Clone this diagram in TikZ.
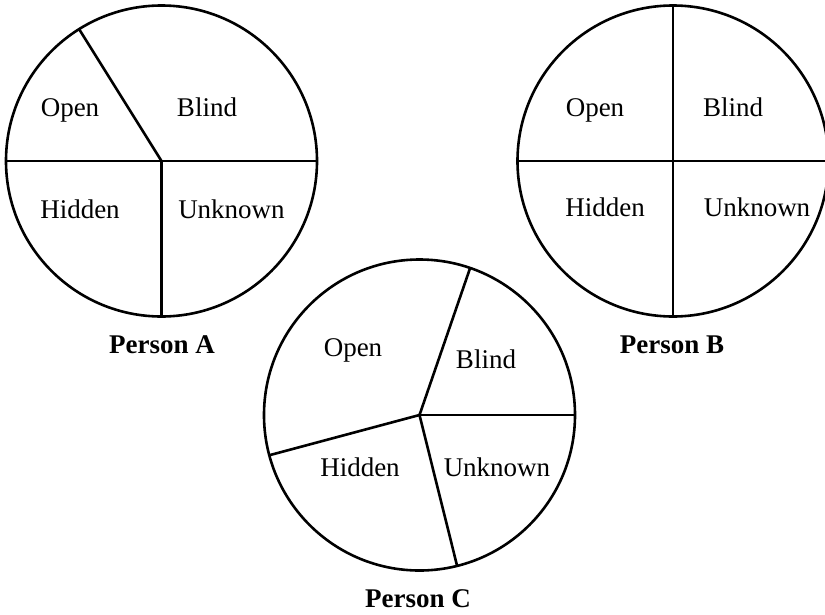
\documentclass[tikz,border=0pt]{standalone}
\usepackage{fontspec}
\setmainfont{Liberation Serif}
\begin{document}
\begin{tikzpicture}[x=1pt,y=-1pt]
\useasboundingbox (0,0) rectangle (825,614);
\clip (0,0) rectangle (825,614);

\begin{scope}[every node/.style={circle,draw,line width=2.6pt,minimum size=311pt,inner sep=0pt,outer sep=0pt}]
    \node (A) at (161.5,161) {};
    \node (B) at (673,161) {};
    \node (C) at (419.5,415) {};
\end{scope}

\begin{scope}[line width=2.6pt]
    \draw (A.west) -- (A.east);
    \draw (A.center) -- (A.south);
    \draw (A.center) -- (A.122.4);
    \draw (B.west) -- (B.east);
    \draw (B.north) -- (B.south);
    \draw (C.center) -- (C.71.4);
    \draw (C.center) -- (C.east);
    \draw (C.center) -- (C.284);
    \draw (C.center) -- (C.195.8);
\end{scope}

\begin{scope}[every node/.style={anchor=base,inner sep=0pt,font=\fontsize{27}{30}\selectfont}]
    \node (A-open) at (70,116) {Open};
    \node (A-blind) at (207,116) {Blind};
    \node (A-hidden) at (80,218) {Hidden};
    \node (A-unknown) at (231.5,218) {Unknown};
    \node (B-open) at (595,116) {Open};
    \node (B-blind) at (733,116) {Blind};
    \node (B-hidden) at (605,216) {Hidden};
    \node (B-unknown) at (757,216) {Unknown};
    \node (C-open) at (353,356) {Open};
    \node (C-blind) at (486,368) {Blind};
    \node (C-hidden) at (360,476) {Hidden};
    \node (C-unknown) at (497,476) {Unknown};
\end{scope}

\begin{scope}[every node/.style={anchor=base,inner sep=0pt,font=\fontsize{27}{30}\selectfont\bfseries}]
    \node (A-name) at (162,353) {Person A};
    \node (B-name) at (672,353) {Person B};
    \node (C-name) at (418,607) {Person C};
\end{scope}
\end{tikzpicture}
\end{document}
